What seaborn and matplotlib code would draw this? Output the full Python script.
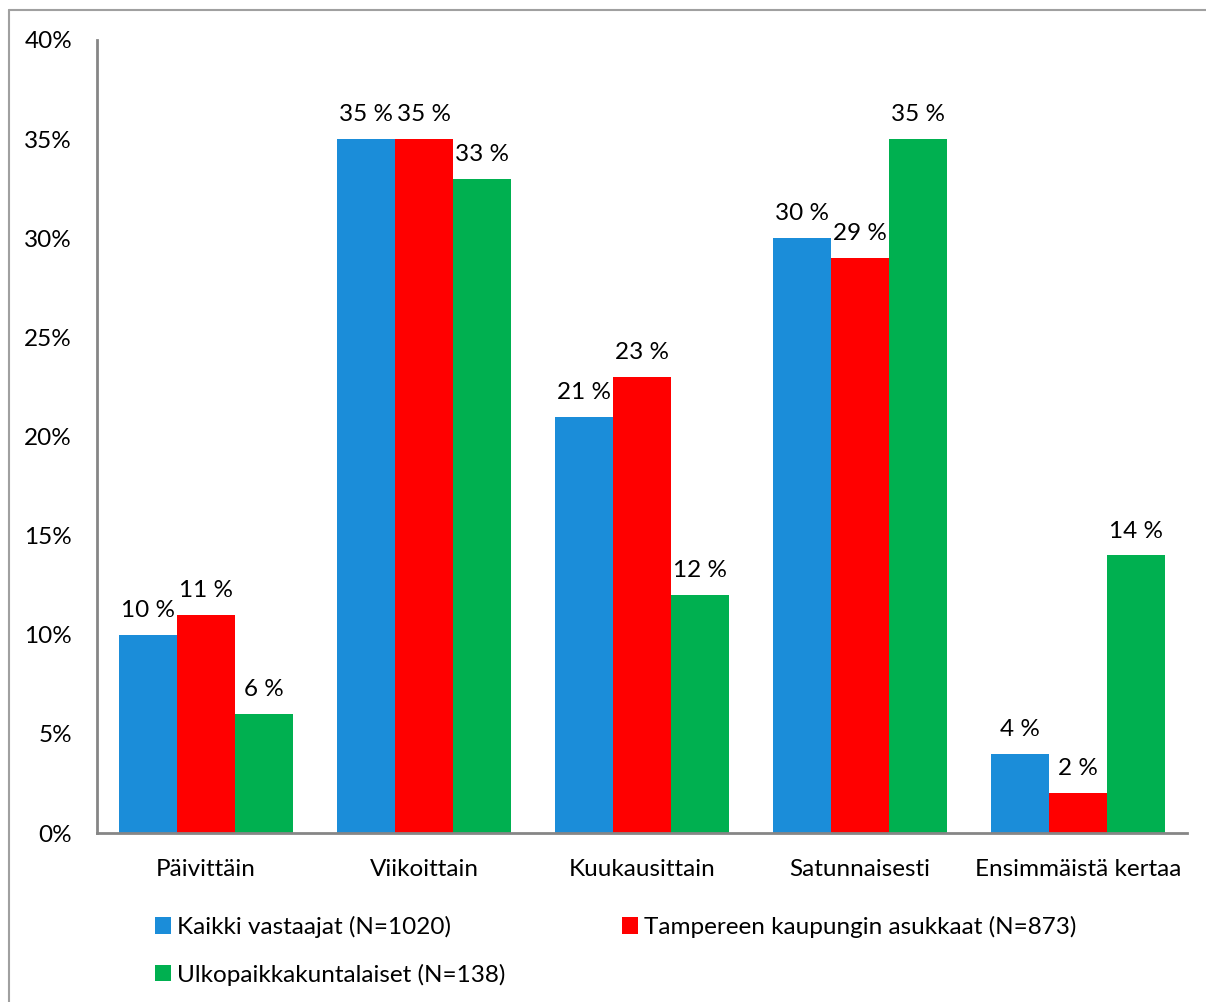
import matplotlib
matplotlib.use("Agg")
import matplotlib.pyplot as plt
import seaborn as sns
import pandas as pd
from matplotlib.patches import Patch
from matplotlib.lines import Line2D
from matplotlib.ticker import FuncFormatter

categories = ["Päivittäin", "Viikoittain", "Kuukausittain", "Satunnaisesti", "Ensimmäistä kertaa"]
series_names = ["Kaikki vastaajat (N=1020)", "Tampereen kaupungin asukkaat (N=873)", "Ulkopaikkakuntalaiset (N=138)"]
kaikki = [10, 35, 21, 30, 4]
tampere = [11, 35, 23, 29, 2]
ulko = [6, 33, 12, 35, 14]
colors = ["#1B8DD9", "#FF0000", "#00B050"]

rows = []
for name, vals in zip(series_names, [kaikki, tampere, ulko]):
    for c, v in zip(categories, vals):
        rows.append({"cat": c, "series": name, "val": v / 100})
df = pd.DataFrame(rows)

sns.set_theme(style="white")
plt.rcParams['font.family'] = ['Lato', 'DejaVu Sans']
plt.rcParams['text.color'] = '#000000'

FS = 17.5

fig = plt.figure(figsize=(12.06, 10.02), dpi=100)
ax = fig.add_axes([97/1206, 1 - 833/1002, (1187-97)/1206, (833-40)/1002])

sns.barplot(data=df, x="cat", y="val", hue="series", order=categories,
            hue_order=series_names, palette=colors, width=0.8, saturation=1,
            ax=ax, legend=False, linewidth=0)

for cont in ax.containers:
    labels = [f"{round(b.get_height()*100):d} %" for b in cont]
    ax.bar_label(cont, labels=labels, padding=10, fontsize=FS, color="black")

ax.set_ylim(0, 0.40)
ax.set_xlim(-0.5, 4.5)
ax.set_yticks([i * 0.05 for i in range(9)])
ax.yaxis.set_major_formatter(FuncFormatter(lambda v, p: f"{round(v*100):d}%"))
ax.set_xlabel("")
ax.set_ylabel("")
ax.tick_params(axis="y", length=0, pad=18, labelsize=FS, labelcolor="black")
ax.tick_params(axis="x", length=0, pad=19, labelsize=FS, labelcolor="black")
for s in ["top", "right"]:
    ax.spines[s].set_visible(False)
for s in ["left", "bottom"]:
    ax.spines[s].set_color("#868686")
    ax.spines[s].set_linewidth(2)
ax.grid(False)

# legend filled row by row: row 1 = Kaikki, Tampere ; row 2 = Ulko
order = [0, 2, 1]
handles = [Patch(facecolor=colors[i], edgecolor="none") for i in order]
labels = [series_names[i] for i in order]
fig.legend(handles, labels, loc="upper left", bbox_to_anchor=(155/1206, 1 - 916/1002),
           ncol=2, frameon=False, fontsize=FS, handlelength=0.65, handleheight=0.65,
           handletextpad=0.25, columnspacing=4.8, labelspacing=1.05, borderaxespad=0,
           borderpad=0)

# outer frame
fig.add_artist(Line2D([9/1206, 1], [1 - 10/1002, 1 - 10/1002], transform=fig.transFigure, color="#A0A0A0", lw=1.5))
fig.add_artist(Line2D([9/1206, 9/1206], [0, 1 - 10/1002], transform=fig.transFigure, color="#A0A0A0", lw=1.5))

fig.savefig("out.png", dpi=100, facecolor="white")
